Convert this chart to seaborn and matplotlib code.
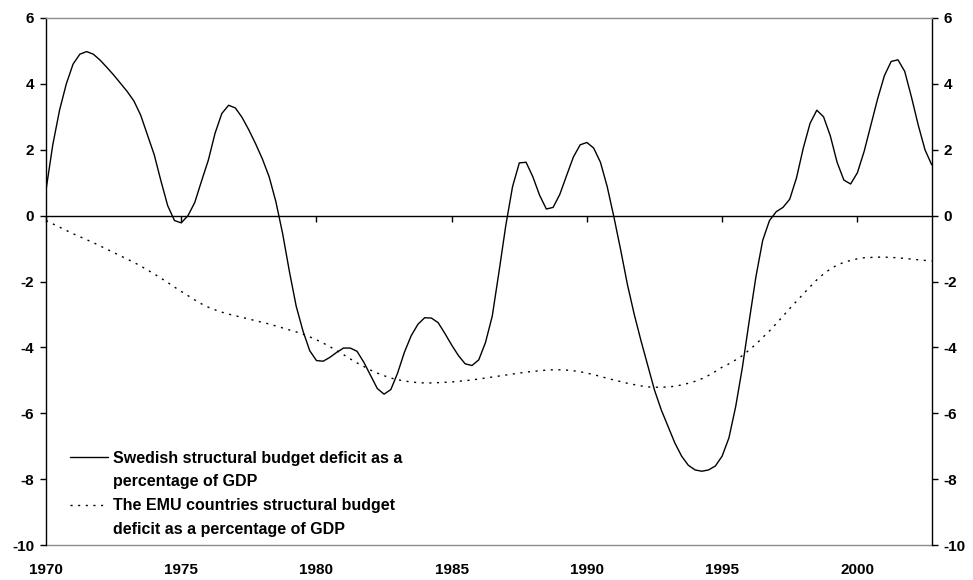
import numpy as np
import pandas as pd
import matplotlib
matplotlib.use("Agg")
import matplotlib.pyplot as plt
from matplotlib.lines import Line2D
import seaborn as sns

# Quarterly data, 1970Q1 .. 2002Q4
start_year = 1970
sweden = [
    0.78, 2.15, 3.2, 4.0,
    4.6, 4.9, 4.98, 4.9,
    4.72, 4.5, 4.27, 4.02,
    3.77, 3.48, 3.05, 2.45,
    1.85, 1.05, 0.3, -0.15,
    -0.22, 0.0, 0.4, 1.05,
    1.68, 2.5, 3.1, 3.35,
    3.27, 2.98, 2.6, 2.18,
    1.72, 1.18, 0.42, -0.55,
    -1.7, -2.75, -3.5, -4.1,
    -4.4, -4.42, -4.3, -4.15,
    -4.02, -4.02, -4.12, -4.45,
    -4.85, -5.25, -5.42, -5.28,
    -4.78, -4.15, -3.65, -3.3,
    -3.1, -3.11, -3.25, -3.58,
    -3.93, -4.25, -4.5, -4.55,
    -4.38, -3.85, -3.05, -1.7,
    -0.3, 0.88, 1.6, 1.62,
    1.18, 0.62, 0.2, 0.25,
    0.65, 1.22, 1.78, 2.15,
    2.22, 2.05, 1.62, 0.88,
    -0.05, -1.05, -2.1, -3.0,
    -3.8, -4.55, -5.3, -5.9,
    -6.4, -6.9, -7.3, -7.58,
    -7.72, -7.76, -7.72, -7.6,
    -7.3, -6.75, -5.8, -4.6,
    -3.2, -1.85, -0.75, -0.15,
    0.12, 0.25, 0.5, 1.15,
    2.05, 2.8, 3.2, 3.0,
    2.42, 1.62, 1.08, 0.96,
    1.3, 1.95, 2.75, 3.55,
    4.25, 4.68, 4.73, 4.38,
    3.6, 2.75, 2.0, 1.54,
]
emu = [
    -0.15, -0.25, -0.35, -0.45,
    -0.55, -0.64, -0.73, -0.82,
    -0.92, -1.02, -1.12, -1.22,
    -1.32, -1.42, -1.53, -1.65,
    -1.77, -1.9, -2.03, -2.17,
    -2.3, -2.43, -2.56, -2.68,
    -2.78, -2.86, -2.93, -2.99,
    -3.04, -3.09, -3.14, -3.19,
    -3.24, -3.29, -3.35, -3.41,
    -3.47, -3.53, -3.6, -3.68,
    -3.77, -3.87, -3.98, -4.1,
    -4.22, -4.35, -4.47, -4.58,
    -4.69, -4.78, -4.86, -4.93,
    -4.98, -5.02, -5.05, -5.07,
    -5.08, -5.08, -5.07, -5.06,
    -5.05, -5.03, -5.01, -4.99,
    -4.96, -4.93, -4.9, -4.87,
    -4.84, -4.81, -4.78, -4.75,
    -4.73, -4.71, -4.69, -4.68,
    -4.68, -4.69, -4.71, -4.74,
    -4.78, -4.83, -4.88, -4.94,
    -4.99, -5.04, -5.09, -5.13,
    -5.17, -5.2, -5.21, -5.21,
    -5.2, -5.18, -5.14, -5.09,
    -5.03, -4.95, -4.85, -4.73,
    -4.6, -4.5, -4.38, -4.25,
    -4.08, -3.9, -3.7, -3.5,
    -3.28, -3.05, -2.82, -2.6,
    -2.38, -2.16, -1.95, -1.77,
    -1.62, -1.5, -1.42, -1.36,
    -1.31, -1.28, -1.27, -1.26,
    -1.26, -1.27, -1.28, -1.3,
    -1.32, -1.34, -1.36, -1.38,
]
x_ticks = [1970, 1975, 1980, 1985, 1990, 1995, 2000]
y_ticks = [-10, -8, -6, -4, -2, 0, 2, 4, 6]
label_sweden = "Swedish structural budget deficit as a\npercentage of GDP"
label_emu = "The EMU countries structural budget\ndeficit as a percentage of GDP"

time = [start_year + i / 4 for i in range(len(sweden))]
df = pd.DataFrame({"time": time, "sweden": sweden, "emu": emu})

sns.set_style("white")
plt.rcParams["font.family"] = ["Liberation Sans", "DejaVu Sans"]
plt.rcParams["font.weight"] = "bold"
plt.rcParams["axes.unicode_minus"] = False
plt.rcParams["text.color"] = "black"
plt.rcParams["xtick.color"] = "black"
plt.rcParams["ytick.color"] = "black"
plt.rcParams["axes.labelcolor"] = "black"

fig = plt.figure(figsize=(9.73, 5.8), dpi=100)
ax = fig.add_axes([0.0473, 0.0603, 0.9103, 0.9087])

sns.lineplot(data=df, x="time", y="sweden", ax=ax, color="black", lw=1.0, legend=False)
sns.lineplot(data=df, x="time", y="emu", ax=ax, color="black", lw=1.0,
             linestyle=(0, (1.5, 4)), legend=False)

ax.set_xlim(time[0], time[-1])
ax.set_ylim(-10, 6)
ax.set_xlabel("")
ax.set_ylabel("")

TICK_FS = 11

# y axes on both sides
ax.set_yticks(y_ticks)
ax.set_yticklabels([str(v) for v in y_ticks])
ax.tick_params(axis="y", left=True, right=True, labelleft=True, labelright=True,
               direction="out", length=4.5, width=1.0, color="black",
               labelcolor="black", labelsize=TICK_FS, pad=4)
for lab in ax.get_yticklabels():
    lab.set_fontweight("bold")

for s in ("left", "right"):
    ax.spines[s].set_color("black")
    ax.spines[s].set_linewidth(1.0)
ax.spines["top"].set_color("#8c8c8c")
ax.spines["top"].set_linewidth(1.0)

# zero line carries the x ticks
ax.spines["bottom"].set_position(("data", 0))
ax.spines["bottom"].set_color("black")
ax.spines["bottom"].set_linewidth(1.0)
ax.set_xticks(x_ticks)
ax.tick_params(axis="x", bottom=True, labelbottom=False, direction="out",
               length=4, width=1.0, color="black")

# labels at the bottom edge
sec = ax.secondary_xaxis(0)
sec.set_xticks(x_ticks)
sec.set_xticklabels([str(v) for v in x_ticks])
sec.tick_params(length=0, labelsize=TICK_FS, pad=13, labelcolor="black")
for lab in sec.get_xticklabels():
    lab.set_fontweight("bold")
sec.spines["bottom"].set_color("#8c8c8c")
sec.spines["bottom"].set_linewidth(1.0)

handles = [
    Line2D([], [], color="black", lw=1.0),
    Line2D([], [], color="none"),
    Line2D([], [], color="black", lw=1.0, linestyle=(0, (1.5, 4))),
    Line2D([], [], color="none"),
]
l1, l2 = label_sweden.split("\n")
l3, l4 = label_emu.split("\n")
leg = ax.legend(handles, [l1, l2, l3, l4], loc="lower left",
                bbox_to_anchor=(0.02, 0.003), frameon=False,
                prop={"weight": "bold", "size": 11.5},
                handlelength=2.4, handletextpad=0.3, labelspacing=0.55,
                borderaxespad=0)
for t in leg.get_texts():
    t.set_color("black")

fig.savefig("out.png", dpi=100)
